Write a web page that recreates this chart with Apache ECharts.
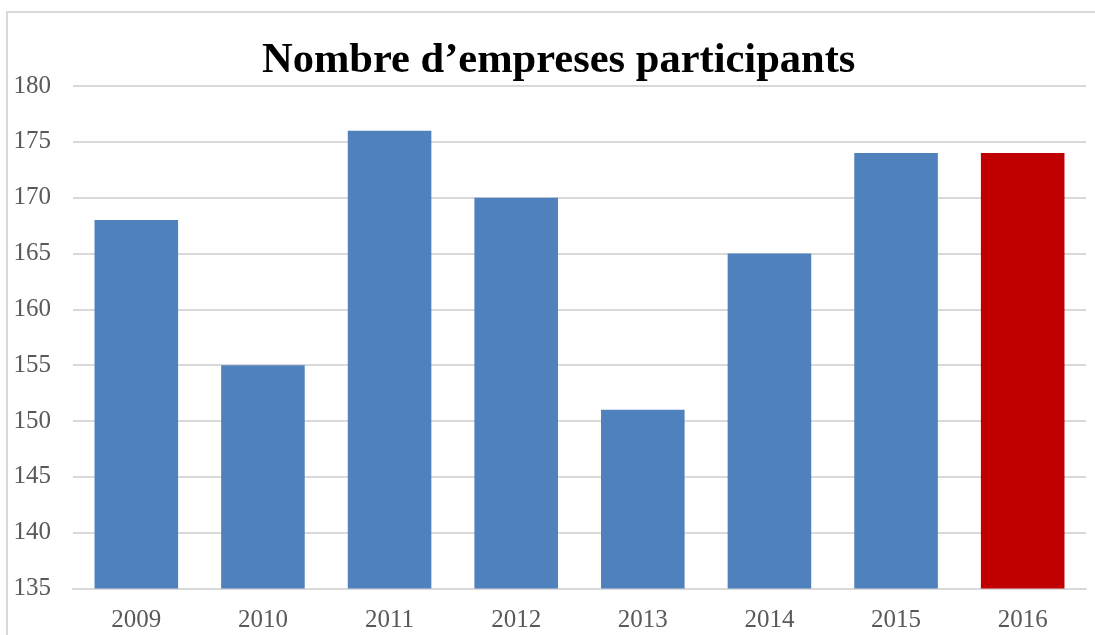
<!DOCTYPE html>
<html>
<head>
<meta charset="utf-8">
<script src="https://cdn.jsdelivr.net/npm/echarts@6/dist/echarts.min.js"></script>
<style>
    html, body { margin: 0; padding: 0; background: #fff; }
    #main { width: 1095px; height: 635px; }
</style>
</head>
<body>
<div id="main"></div>
<script>
const years = ['2009', '2010', '2011', '2012', '2013', '2014', '2015', '2016'];
const companies = [168, 155, 176, 170, 151, 165, 174, 174];
const barColors = ['#4f81bd', '#4f81bd', '#4f81bd', '#4f81bd', '#4f81bd', '#4f81bd', '#4f81bd', '#c00000'];

const myChart = echarts.init(document.getElementById('main'));
const font = '"Liberation Serif", "Times New Roman", serif';

const option = {
    animation: false,
    title: {
        text: 'Nombre d\u2019empreses participants',
        left: 257,
        top: 35,
        textStyle: { fontFamily: font, fontSize: 42.5, fontWeight: 'bold', color: '#000' }
    },
    graphic: [{
        type: 'rect',
        shape: { x: 7, y: 12, width: 1200, height: 800 },
        style: { fill: 'none', stroke: '#d9d9d9', lineWidth: 2 },
        silent: true
    }],
    grid: { left: 73, right: 9, top: 86, bottom: 46.5 },
    xAxis: {
        type: 'category',
        data: years,
        axisTick: { show: false },
        axisLine: { lineStyle: { color: '#d9d9d9', width: 2 } },
        axisLabel: { fontFamily: font, fontSize: 25, color: '#595959', margin: 19 }
    },
    yAxis: {
        type: 'value',
        min: 135,
        max: 180,
        interval: 5,
        axisLine: { show: false },
        axisTick: { show: false },
        splitLine: { lineStyle: { color: '#d9d9d9', width: 2 } },
        axisLabel: { fontFamily: font, fontSize: 25, color: '#595959', margin: 22 }
    },
    series: [{
        type: 'bar',
        barWidth: '66%',
        data: companies.map((v, i) => ({ value: v, itemStyle: { color: barColors[i] } }))
    }]
};

myChart.setOption(option);
</script>
</body>
</html>
